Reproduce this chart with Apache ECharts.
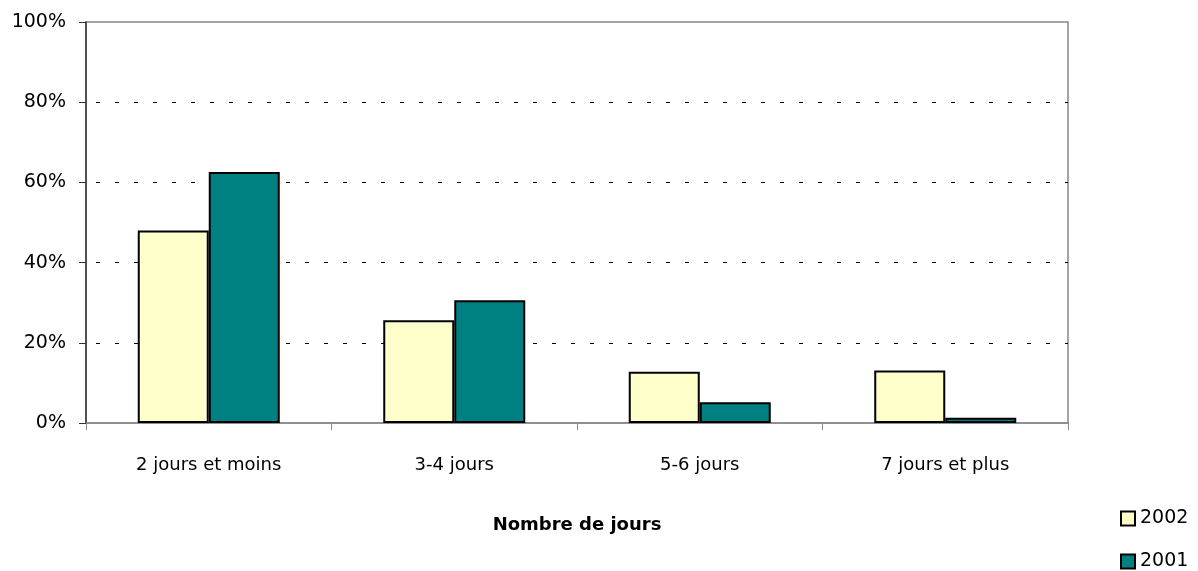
<!DOCTYPE html>
<html><head><meta charset="utf-8">
<script src="https://cdn.jsdelivr.net/npm/echarts@6/dist/echarts.min.js"></script>
<style>html,body{margin:0;padding:0;background:#fff}#c{width:1198px;height:571px}</style>
</head><body><div id="c"></div>
<script>
const categories = ['2 jours et moins', '3-4 jours', '5-6 jours', '7 jours et plus'];
const values2002 = [48, 25.6, 12.8, 13.1];
const values2001 = [62.6, 30.6, 5.2, 1.3];
const seriesNames = ['2002', '2001'];
const yTicks = [0, 20, 40, 60, 80, 100];
const FONT = "'Comic Sans MS', 'DejaVu Sans', sans-serif";

const legendText = {fontFamily: FONT, fontSize: 19, color: '#000', padding: [2,0,0,0]};
const chart = echarts.init(document.getElementById('c'), null, {renderer: 'canvas'});
chart.setOption({
  animation: false,
  backgroundColor: '#fff',
  textStyle: {fontFamily: FONT, color: '#000'},
  grid: {left: 86, right: 130, top: 22, bottom: 148, show: true, borderColor: '#888', borderWidth: 1.5, backgroundColor: 'transparent'},
  legend: [
    {orient: 'vertical', left: 1120, top: 509, padding: 0, itemGap: 0, itemWidth: 14, itemHeight: 14, icon: 'rect',
     textStyle: legendText, data: [seriesNames[0]]},
    {orient: 'vertical', left: 1120, top: 552, padding: 0, itemGap: 0, itemWidth: 14, itemHeight: 14, icon: 'rect',
     textStyle: legendText, data: [seriesNames[1]]}
  ],
  xAxis: {
    type: 'category', data: categories,
    name: 'Nombre de jours', nameLocation: 'middle', nameGap: 93,
    nameTextStyle: {fontFamily: FONT, fontSize: 18, fontWeight: 'bold', color: '#000'},
    axisLine: {lineStyle: {color: '#888', width: 1.5}},
    axisTick: {show: true, alignWithLabel: false, length: 7, lineStyle: {color: '#888'}},
    axisLabel: {fontFamily: FONT, fontSize: 18, color: '#000', margin: 33},
    splitLine: {show: false}
  },
  yAxis: {
    type: 'value', min: 0, max: 100, interval: 20,
    axisLine: {show: true, lineStyle: {color: '#333', width: 1.5}},
    axisTick: {show: true, length: 7, lineStyle: {color: '#333'}},
    axisLabel: {fontFamily: FONT, fontSize: 19, color: '#000', margin: 20,
      formatter: v => yTicks.includes(v) ? v + '%' : ''},
    splitLine: {show: true, showMaxLine: false, showMinLine: false, lineStyle: {color: '#000', type: [4, 15], dashOffset: -10, width: 1}}
  },
  series: [
    {name: seriesNames[0], type: 'bar', data: values2002, barWidth: 71, barGap: '0%',
     itemStyle: {color: '#FFFFCC', borderColor: '#000', borderWidth: 2}},
    {name: seriesNames[1], type: 'bar', data: values2001, barWidth: 71, barGap: '0%',
     itemStyle: {color: '#008080', borderColor: '#000', borderWidth: 2}}
  ]
});
</script></body></html>
